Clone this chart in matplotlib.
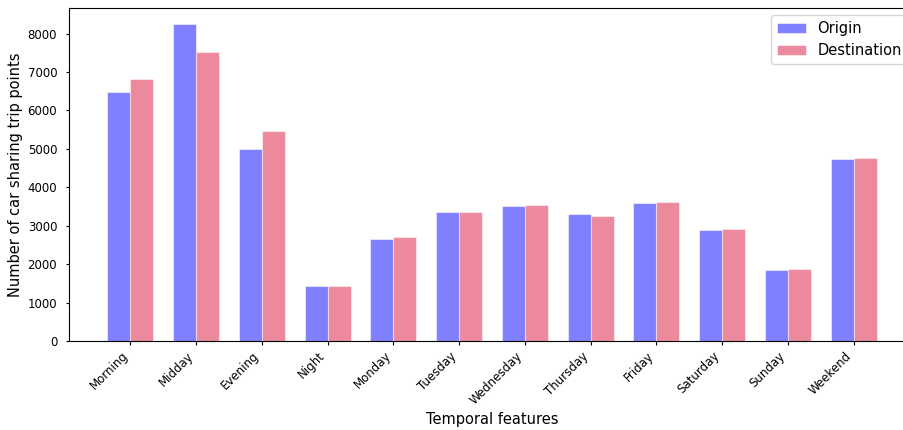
import numpy as np
import matplotlib
matplotlib.use("Agg")
import matplotlib.pyplot as plt

# --- Trip point counts per temporal feature ---
features = ['Morning', 'Midday', 'Evening', 'Night', 'Monday', 'Tuesday',
            'Wednesday', 'Thursday', 'Friday', 'Saturday', 'Sunday', 'Weekend']
origin = [6480, 8255, 4990, 1430, 2660, 3345, 3525, 3300, 3605, 2885, 1850, 4735]
destination = [6820, 7520, 5470, 1430, 2715, 3360, 3545, 3265, 3620, 2920, 1875, 4770]

width = 0.35
x = np.arange(len(features))

fig = plt.figure(figsize=(9.04, 4.30), dpi=100)
# axes run past the right edge of the canvas
ax = fig.add_axes([69 / 904, 89 / 430, 846 / 904, 333 / 430])

ax.bar(x - width / 2, origin, width, color='blue', alpha=0.5,
       edgecolor='white', linewidth=0.8, label='Origin')
ax.bar(x + width / 2, destination, width, color='crimson', alpha=0.5,
       edgecolor='white', linewidth=0.8, label='Destination')

ax.set_xticks(x)
ax.set_xticklabels(features, rotation=45, ha='right')
ax.set_xlabel('Temporal features', fontsize=10.5, labelpad=4)
ax.set_ylabel('Number of car sharing trip points', fontsize=10.5, labelpad=3)
ax.tick_params(axis='x', labelsize=8.5, length=3, pad=3)
ax.tick_params(axis='y', labelsize=8.5, length=2.5, pad=6)

ax.legend(loc='upper right', fontsize=10.5)

fig.savefig('out.png', dpi=100)
